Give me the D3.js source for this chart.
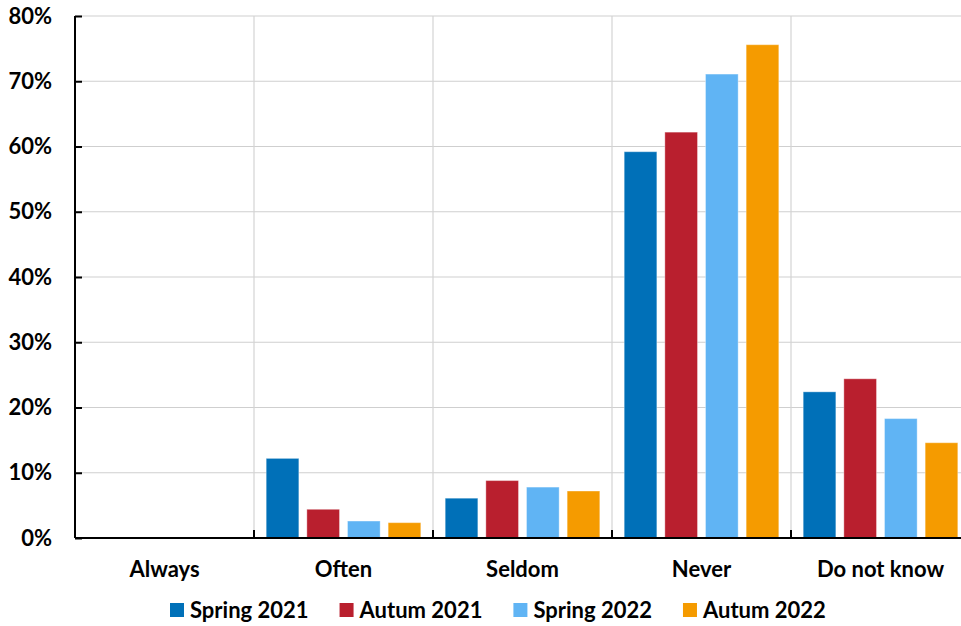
<!DOCTYPE html>
<html>
<head>
<meta charset="utf-8">
<script src="https://cdn.jsdelivr.net/npm/d3@7"></script>
<style>
  html, body { margin: 0; padding: 0; background: #fff; }
  svg { display: block; }
  text { font-family: Lato, "Open Sans", sans-serif; font-weight: 700; fill: #000; }
</style>
</head>
<body>
<svg id="chart" width="961" height="626"></svg>
<script>
const categories = ["Always", "Often", "Seldom", "Never", "Do not know"];
const seriesNames = ["Spring 2021", "Autum 2021", "Spring 2022", "Autum 2022"];
const seriesColors = ["#0070B8", "#B91F2E", "#60B4F4", "#F59B00"];
const spring2021 = [0, 12.2, 6.1, 59.2, 22.4];
const autum2021  = [0, 4.4, 8.8, 62.2, 24.4];
const spring2022 = [0, 2.6, 7.8, 71.1, 18.3];
const autum2022  = [0, 2.35, 7.2, 75.6, 14.6];
const yTicks = [0, 10, 20, 30, 40, 50, 60, 70, 80];

const seriesValues = [spring2021, autum2021, spring2022, autum2022];
const data = categories.map((c, i) => ({
  category: c,
  values: seriesNames.map((s, j) => ({ series: s, value: seriesValues[j][i], color: seriesColors[j] }))
}));

const svg = d3.select("#chart");
const mLeft = 75, mRight = 970, mTop = 16, mBottom = 538;
const fontSize = "22px";

const x = d3.scaleBand().domain(categories).range([mLeft, mRight]).paddingInner(0).paddingOuter(0);
const xInner = d3.scaleBand().domain(seriesNames).range([0, x.bandwidth()]).paddingInner(0.197).paddingOuter(0.3);
const y = d3.scaleLinear().domain([0, 80]).range([mBottom, mTop]);

// horizontal gridlines
svg.append("g").selectAll("line").data(yTicks.filter(d => d > 0)).join("line")
  .attr("x1", mLeft).attr("x2", mRight)
  .attr("y1", d => y(d)).attr("y2", d => y(d))
  .attr("stroke", "#cfcfcf").attr("stroke-width", 1.2);

// vertical gridlines at category boundaries
svg.append("g").selectAll("line").data(categories.slice(1)).join("line")
  .attr("x1", d => x(d)).attr("x2", d => x(d))
  .attr("y1", mTop).attr("y2", mBottom)
  .attr("stroke", "#d4d4d4").attr("stroke-width", 1.2);

// bars
const groups = svg.append("g").selectAll("g").data(data).join("g")
  .attr("transform", d => `translate(${x(d.category)},0)`);
groups.selectAll("rect").data(d => d.values.filter(v => v.value > 0)).join("rect")
  .attr("x", d => xInner(d.series))
  .attr("width", xInner.bandwidth())
  .attr("y", d => y(d.value))
  .attr("height", d => y(0) - y(d.value))
  .attr("fill", d => d.color)
  .attr("stroke", "rgba(255,255,255,0.35)")
  .attr("stroke-width", 1);

// y axis
const yAxis = d3.axisLeft(y).tickValues(yTicks).tickFormat(d => d + "%").tickSize(-7).tickPadding(23);
const gy = svg.append("g").attr("transform", `translate(${mLeft},0)`).call(yAxis);
gy.select(".domain").attr("stroke", "#000").attr("stroke-width", 2).attr("d", `M0,${mTop}V${mBottom}`);
gy.selectAll(".tick line").attr("stroke", "#000").attr("stroke-width", 2);
gy.selectAll(".tick text").style("font-size", fontSize).style("font-family", "Lato, sans-serif").style("font-weight", 700).attr("fill", "#000");

// x axis
const xAxis = d3.axisBottom(x).tickSize(0).tickPadding(23);
const gx = svg.append("g").attr("transform", `translate(0,${mBottom})`).call(xAxis);
gx.select(".domain").attr("stroke", "#000").attr("stroke-width", 2).attr("d", `M${mLeft},0H${mRight}`);
gx.selectAll(".tick text").style("font-size", fontSize).style("font-family", "Lato, sans-serif").style("font-weight", 700).attr("fill", "#000");
// category boundary ticks (upward)
svg.append("g").selectAll("line").data(categories.slice(1)).join("line")
  .attr("x1", d => x(d)).attr("x2", d => x(d))
  .attr("y1", mBottom - 8).attr("y2", mBottom)
  .attr("stroke", "#000").attr("stroke-width", 2);

// legend
const legend = svg.append("g").attr("transform", "translate(170,610)");
let lx = 0;
seriesNames.forEach((s, i) => {
  const g = legend.append("g").attr("transform", `translate(${lx},0)`);
  g.append("rect").attr("x", 0).attr("y", -7).attr("width", 14).attr("height", 14).attr("fill", seriesColors[i]);
  const t = g.append("text").attr("x", 20).attr("y", 0).attr("dy", "0.35em")
    .style("font-size", fontSize).text(s);
  const w = t.node().getComputedTextLength();
  lx += 20 + w + 31;
});
</script>
</body>
</html>
